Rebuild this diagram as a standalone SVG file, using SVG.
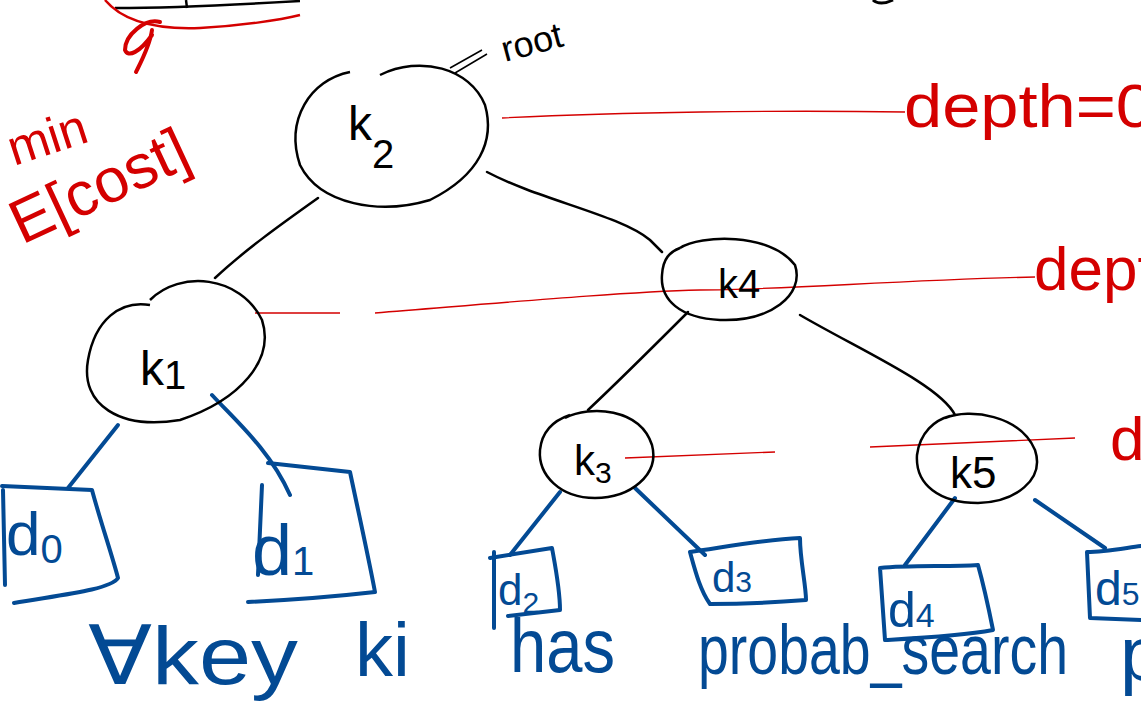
<svg xmlns="http://www.w3.org/2000/svg" width="1141" height="728" viewBox="0 0 1141 728">
<style>
.node{fill:none;stroke:#000;stroke-width:2.5}
.edge{fill:none;stroke:#000;stroke-width:2.5;stroke-linecap:round}
.bedge{fill:none;stroke:#034a94;stroke-width:4;stroke-linecap:round}
.box{fill:none;stroke:#034a94;stroke-width:4;stroke-linejoin:round;stroke-linecap:round}
.red{fill:none;stroke:#d40000;stroke-width:1.3}
.redt{fill:#d40000;font-family:"Liberation Sans",sans-serif}
.blk{fill:#000;font-family:"Liberation Sans",sans-serif}
.blu{fill:#034a94;font-family:"Liberation Sans",sans-serif}
</style>
<rect width="1141" height="728" fill="#fff"/>
<!-- top remnants -->
<g id="remnants">
<path d="M115,8 C180,8 250,4 300,1" fill="none" stroke="#000" stroke-width="2.5"/>
<path d="M186,0 L187,8" fill="none" stroke="#000" stroke-width="2.5"/>
<path d="M105,0 C120,18 150,30 200,28 C240,26 280,20 300,15" fill="none" stroke="#d40000" stroke-width="2.5"/>
<path d="M160,22 C145,18 125,35 125,50 C128,58 140,52 152,35 M152,30 C150,45 142,60 136,72" fill="none" stroke="#d40000" stroke-width="4" stroke-linecap="round"/>
<path d="M873,0 C877,4 885,4 893,0" fill="none" stroke="#000" stroke-width="3"/>
</g>
<!-- red depth lines -->
<g id="depth-lines">
<path class="red" d="M502,118 C620,112 780,110 905,112"/>
<path class="red" d="M255,313 L340,313 M375,313 C500,303 620,292 700,290 C780,290 900,280 1035,277"/>
<path class="red" d="M625,458 L775,452 M870,447 L1075,438"/>
</g>
<!-- connectors -->
<g id="connectors">
<path class="edge" d="M318,198 C280,225 245,250 215,278" stroke-width="3"/>
<path class="edge" d="M487,172 C540,200 620,215 650,240 L662,252"/>
<path class="edge" d="M688,312 C660,340 620,380 588,410" stroke-width="3"/>
<path class="edge" d="M800,315 C860,350 940,385 955,415"/>
<path class="bedge" d="M118,425 L68,488"/>
<path class="bedge" d="M212,395 C235,420 270,450 290,495"/>
<path class="bedge" d="M560,492 L510,555" stroke-width="3"/>
<path class="bedge" d="M635,488 L705,555"/>
<path class="bedge" d="M955,498 L905,565" stroke-width="3"/>
<path class="bedge" d="M1035,500 L1105,548"/>
</g>
<!-- nodes -->
<g id="k2">
<path class="node" d="M380,75 C420,55 470,68 485,105 C495,140 480,175 430,200 C380,215 320,205 300,165 C285,120 310,80 350,72"/>
<text class="blk" x="348" y="140" font-size="48">k<tspan font-size="40" dy="28">2</tspan></text>
</g>
<g id="root">
<path d="M450,68 L482,50 M455,73 L487,54" fill="none" stroke="#000" stroke-width="1.5"/>
<text class="blk" x="505" y="62" font-size="36" transform="rotate(-15 505 62)">root</text>
</g>
<g id="k1">
<path class="node" d="M150,300 C180,270 240,275 262,320 C275,360 240,400 180,420 C120,430 80,405 88,360 C95,320 120,300 150,305"/>
<text class="blk" x="140" y="385" font-size="48">k<tspan font-size="40" dy="4">1</tspan></text>
</g>
<g id="k4">
<path class="node" d="M680,248 C700,235 770,232 795,265 C805,295 770,322 720,320 C680,318 660,300 662,275 C663,258 670,252 680,248"/>
<text class="blk" x="718" y="298" font-size="40">k<tspan>4</tspan></text>
</g>
<g id="k3">
<path class="node" d="M565,418 C590,405 640,408 652,445 C660,475 630,498 595,498 C560,498 538,475 540,450 C542,430 555,420 570,415"/>
<text class="blk" x="574" y="475" font-size="42">k<tspan font-size="30" dy="8">3</tspan></text>
</g>
<g id="k5">
<path class="node" d="M945,418 C970,408 1020,415 1035,450 C1045,480 1015,502 978,503 C940,503 915,485 917,455 C920,432 935,420 950,416"/>
<text class="blk" x="950" y="488" font-size="44">k<tspan>5</tspan></text>
</g>
<!-- leaves -->
<g id="d0">
<path class="box" d="M2,486 L92,490 C100,520 112,555 118,578 C110,590 60,595 14,603"/>
<path class="box" d="M3,490 L5,585"/>
<text class="blu" x="6" y="555" font-size="62">d<tspan font-size="40" dy="8">0</tspan></text>
</g>
<g id="d1">
<path class="box" d="M268,463 L350,472 C358,510 368,555 375,592 C340,596 290,600 248,602"/>
<path class="box" d="M262,485 L258,575"/>
<text class="blu" x="252" y="575" font-size="72">d<tspan font-size="40">1</tspan></text>
</g>
<g id="d2">
<path class="box" d="M490,558 L552,548 C556,570 560,590 560,610 L508,616" stroke-width="3.5"/>
<path class="box" d="M494,552 L494,628" stroke-width="3"/>
<text class="blu" x="498" y="605" font-size="44">d<tspan font-size="30" dy="8">2</tspan></text>
</g>
<g id="d3">
<path class="box" d="M690,552 C720,548 760,540 800,538 C800,560 806,585 806,600 C780,602 740,604 710,604 C700,590 695,570 690,552" stroke-width="3.5"/>
<text class="blu" x="712" y="592" font-size="42">d<tspan font-size="30">3</tspan></text>
</g>
<g id="d4">
<path class="box" d="M880,568 C910,565 950,567 978,565 C985,590 990,615 993,630 C960,636 920,638 885,640 L880,568" stroke-width="3.5"/>
<text class="blu" x="888" y="627" font-size="50">d<tspan font-size="34">4</tspan></text>
</g>
<g id="d5">
<path class="box" d="M1087,552 C1105,552 1125,548 1141,546 M1087,552 L1090,618 L1141,620" stroke-width="3.5"/>
<text class="blu" x="1095" y="605" font-size="48">d<tspan font-size="32">5</tspan></text>
</g>
<!-- annotations -->
<g id="min-cost">
<text class="redt" x="14" y="166" font-size="50" transform="rotate(-18 14 166)">min</text>
<text class="redt" x="22" y="245" font-size="62" transform="rotate(-25 22 245)">E[cost]</text>
</g>
<g id="depth-labels">
<text class="redt" x="904" y="127" font-size="62" textLength="250" lengthAdjust="spacingAndGlyphs">depth=0</text>
<text class="redt" x="1034" y="290" font-size="62">depth</text>
<text class="redt" x="1110" y="460" font-size="62">d</text>
</g>
<g id="caption">
<text class="blu" x="88" y="684" font-size="82" textLength="210" lengthAdjust="spacingAndGlyphs">∀key</text>
<text class="blu" x="355" y="676" font-size="76">ki</text>
<text class="blu" x="510" y="672" font-size="76" textLength="105" lengthAdjust="spacingAndGlyphs">has</text>
<text class="blu" x="698" y="674" font-size="70" textLength="370" lengthAdjust="spacingAndGlyphs">probab_search</text>
<text class="blu" x="1120" y="680" font-size="76">p</text>
</g>
</svg>
